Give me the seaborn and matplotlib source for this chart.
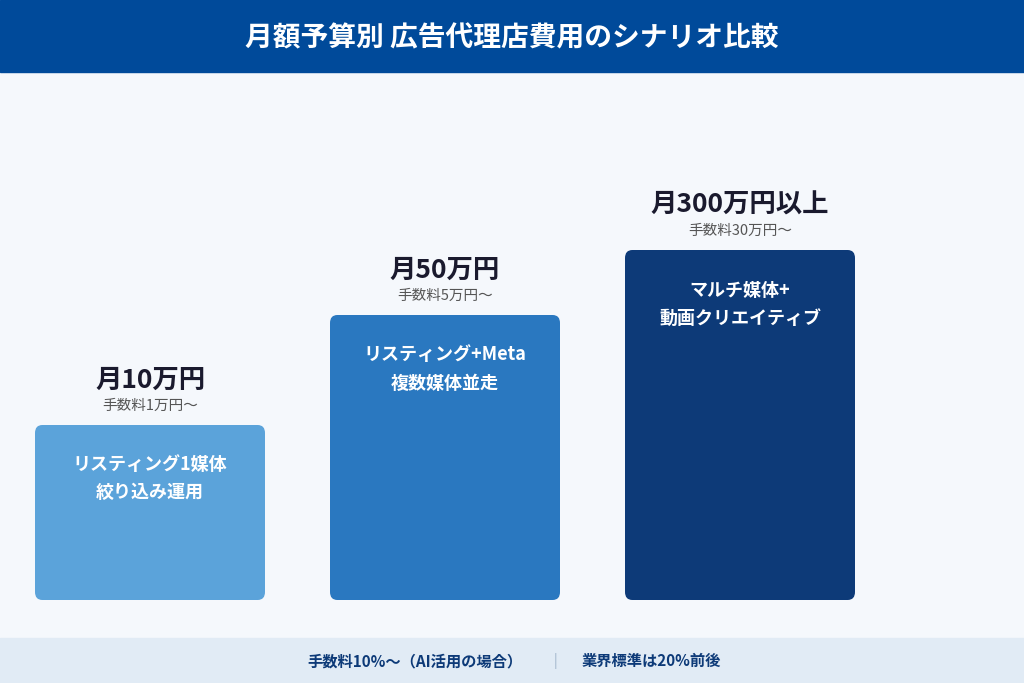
import matplotlib
matplotlib.use("Agg")
import matplotlib.pyplot as plt
import seaborn as sns
import pandas as pd
from matplotlib.patches import FancyBboxPatch, Rectangle

sns.set_theme(style="white")
plt.rcParams['font.family'] = ['Noto Sans CJK JP', 'DejaVu Sans']

categories = ["月10万円", "月50万円", "月300万円以上"]
fees = ["手数料1万円〜", "手数料5万円〜", "手数料30万円〜"]
descs = ["リスティング1媒体\n絞り込み運用", "リスティング+Meta\n複数媒体並走", "マルチ媒体+\n動画クリエイティブ"]
heights = [175, 285, 350]  # visual bar heights
colors = ["#5ba3da", "#2a78c0", "#0d3a78"]
title = "月額予算別 広告代理店費用のシナリオ比較"
footer_left = "手数料10%〜（AI活用の場合）"
footer_right = "業界標準は20%前後"

fig = plt.figure(figsize=(10.24, 6.83), dpi=100)
fig.patch.set_facecolor("#f5f8fc")
W, H = 1024, 683
fig.add_artist(Rectangle((0, 1 - 72 / H), 1, 72 / H, transform=fig.transFigure, color="#004a9a", zorder=0))
fig.text(0.5, 1 - 38 / H, title, ha="center", va="center", color="white", fontsize=20, fontweight="bold")
fig.add_artist(Rectangle((0, 0), 1, 45 / H, transform=fig.transFigure, color="#e1ebf5", zorder=0))
fig.text(522 / W, 22 / H, footer_left, ha="right", va="center", color="#0d3a78", fontsize=11, fontweight="bold")
fig.text(555 / W, 22 / H, "|", ha="center", va="center", color="#9bb0c8", fontsize=10)
fig.text(582 / W, 22 / H, footer_right, ha="left", va="center", color="#0d3a78", fontsize=11, fontweight="bold")

ax = fig.add_axes([0, 83 / H, 1, 528 / H])
ax.set_facecolor("none")
df = pd.DataFrame({"cat": categories, "h": heights})
sns.barplot(data=df, x="cat", y="h", hue="cat", palette=colors, width=230 / 295, ax=ax,
            legend=False, saturation=1)
ax.set_xlim(-150 / 295, (1024 - 150) / 295)
ax.set_ylim(0, 528)
ax.axis("off")

for i, p in enumerate(list(ax.patches)):
    x, y, w, h = p.get_x(), p.get_y(), p.get_width(), p.get_height()
    fc = p.get_facecolor()
    p.remove()
    ax.add_patch(FancyBboxPatch((x, y), w, h, boxstyle="round,pad=0,rounding_size=0.025",
                                mutation_aspect=320, facecolor=fc, edgecolor="none"))
    cx = x + w / 2
    ax.text(cx, h + 45, categories[i], ha="center", va="center", fontsize=19, fontweight="bold", color="#1a1a2e")
    ax.text(cx, h + 19, fees[i], ha="center", va="center", fontsize=10.5, color="#555555")
    ax.text(cx, h - 54, descs[i], ha="center", va="center", fontsize=13, fontweight="bold",
            color="white", linespacing=1.6)

fig.savefig("out.png", dpi=100, facecolor=fig.get_facecolor())
